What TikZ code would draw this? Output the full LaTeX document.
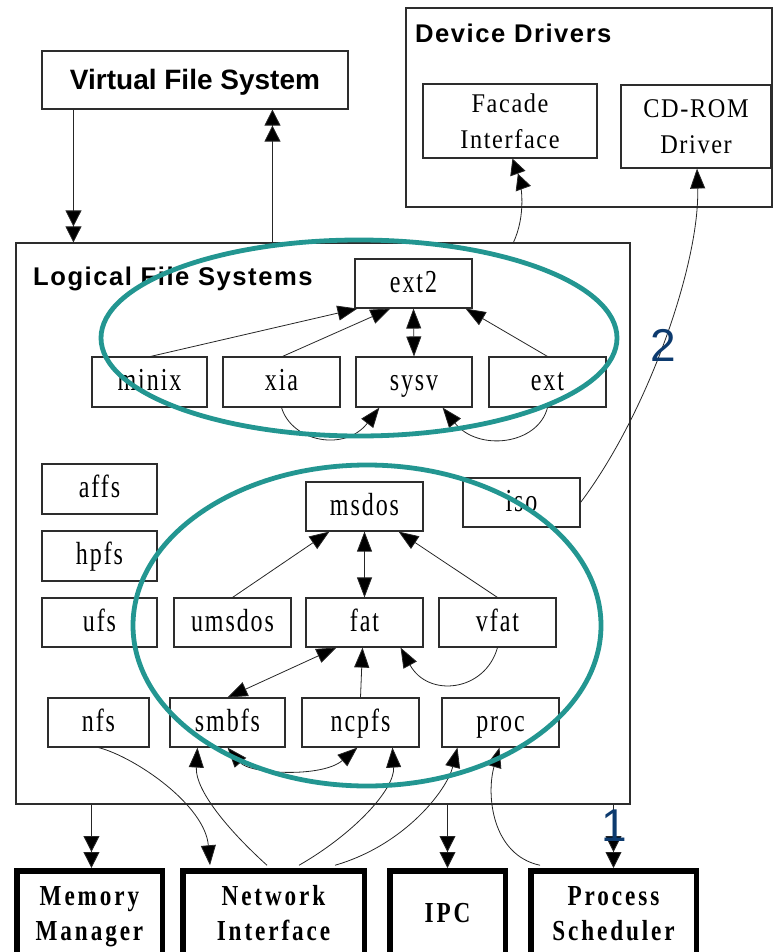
\documentclass[tikz,border=0pt]{standalone}
\usepackage{fontspec}
\setmainfont{Liberation Serif}
\newfontfamily\boxfont[FakeStretch=0.75,LetterSpace=6]{Liberation Serif}
\newfontfamily\drvfont[FakeStretch=0.9,LetterSpace=6]{Liberation Serif}
\newfontfamily\bigfont[FakeStretch=0.8,LetterSpace=10]{Liberation Serif}
\newfontfamily\headfont{Liberation Sans}
\newfontfamily\headwidefont[LetterSpace=6]{Liberation Sans}
\usetikzlibrary{arrows.meta,calc}
\definecolor{teal1}{RGB}{35,150,145}
\definecolor{navy1}{RGB}{12,58,110}
\definecolor{edge1}{RGB}{45,45,45}
\begin{document}
\begin{tikzpicture}[x=1pt,y=-1pt,
  fsbox/.style={draw=edge1,line width=1.1pt,inner sep=0pt,minimum width=117pt,minimum height=49pt,
    font=\boxfont\fontsize{32}{38}\selectfont,text height=22pt,text depth=5pt},
  contbox/.style={draw=edge1,line width=1.1pt,inner sep=0pt},
  drvbox/.style={draw=edge1,line width=1.1pt,inner sep=0pt,align=center,
    font=\drvfont\fontsize{27}{36}\selectfont},
  bigbox/.style={draw=black,line width=5.5pt,inner sep=0pt,minimum height=85pt},
  bigtxt/.style={anchor=base,inner sep=0pt,font=\bigfont\bfseries\fontsize{29}{35}\selectfont},
  headlbl/.style={inner sep=0pt,font=\headwidefont\bfseries\fontsize{25.6}{30}\selectfont},
  conn/.style={draw=black!85,line width=0.8pt},
  arr/.style={conn,-{Triangle[length=20pt,width=15pt,fill=black]}},
  darr/.style={conn,-{Triangle[length=16pt,width=16pt,fill=black]Triangle[length=16pt,width=16pt,fill=black]}},
  barr/.style={conn,{Triangle[length=20pt,width=15pt,fill=black]}-{Triangle[length=20pt,width=15pt,fill=black]}},
  ring/.style={draw=teal1,line width=4.8pt},
  num/.style={inner sep=0pt,text=navy1,font=\headfont\fontsize{46}{50}\selectfont}
]
\useasboundingbox (0,0) rectangle (773,952);
\clip (0,0) rectangle (773,952);

% ---- top level boxes
\node[contbox,minimum width=306pt,minimum height=58pt,
  font=\headfont\bfseries\fontsize{28}{34}\selectfont,text height=20pt,text depth=0pt] (vfs) at (195,80) {Virtual File System};
\node[contbox,minimum width=366pt,minimum height=199pt] (dd) at (589,107.5) {};
\node[headlbl,anchor=base west] (ddlbl) at (415,43) {Device Drivers};
\node[drvbox,minimum width=174pt,minimum height=74pt] (facade) at (510,121) {Facade\\Interface};
\node[drvbox,minimum width=150pt,minimum height=83pt] (cdrom) at (696,126.5) {CD-ROM\\Driver};

\node[contbox,minimum width=614pt,minimum height=561pt] (lfs) at (323,523.5) {};
\node[headlbl,anchor=base west] (lfslbl) at (33,285) {Logical File Systems};

% ---- file system nodes
\node[fsbox] (ext2) at (413.5,283.5) {ext2};
\node[fsbox,minimum width=115pt,minimum height=50pt] (minix) at (149.5,382) {minix};
\node[fsbox,minimum height=50pt] (xia) at (281.5,382) {xia};
\node[fsbox,minimum width=116pt,minimum height=50pt] (sysv) at (414,382) {sysv};
\node[fsbox,minimum height=50pt] (ext) at (547.5,382) {ext};

\node[fsbox,minimum width=115pt,minimum height=50pt] (affs) at (99.5,489) {affs};
\node[fsbox,minimum width=115pt,minimum height=50pt] (hpfs) at (99.5,556) {hpfs};
\node[fsbox,minimum width=115pt] (ufs) at (99.5,622.5) {ufs};
\node[fsbox,minimum width=101pt] (nfs) at (98.5,722.5) {nfs};

\node[fsbox] (msdos) at (364.5,506.5) {msdos};
\node[fsbox] (iso) at (521.5,502.5) {iso};
\node[fsbox] (umsdos) at (232.5,622.5) {umsdos};
\node[fsbox] (fat) at (364.5,622.5) {fat};
\node[fsbox] (vfat) at (497.5,622.5) {vfat};
\node[fsbox,minimum width=115pt] (smbfs) at (227.5,722.5) {smbfs};
\node[fsbox] (ncpfs) at (360.5,722.5) {ncpfs};
\node[fsbox] (proc) at (500.5,722.5) {proc};

% ---- bottom subsystems
\node[bigbox,minimum width=145.5pt] (mem) at (89.5,913.25) {};
\node[bigtxt] (memA) at (89.5,905) {Memory};
\node[bigtxt] (memB) at (89.5,940) {Manager};
\node[bigbox,minimum width=181.5pt] (net) at (273.5,913.25) {};
\node[bigtxt] (netA) at (273.5,905) {Network};
\node[bigtxt] (netB) at (273.5,940) {Interface};
\node[bigbox,minimum width=115.5pt] (ipc) at (447.5,913.25) {};
\node[bigtxt] (ipcA) at (447.5,922) {IPC};
\node[bigbox,minimum width=165.5pt] (ps) at (613.5,913.25) {};
\node[bigtxt] (psA) at (613.5,905) {Process};
\node[bigtxt] (psB) at (613.5,940) {Scheduler};

% ---- connectors: top level
\draw[darr] ($(vfs.south west)+(32,0)$) -- ($(lfs.north west)+(58,0)$);
\draw[darr] ($(lfs.north west)+(257,0)$) -- ($(vfs.south west)+(231,0)$);
\draw[darr] ($(lfs.north west)+(498,0)$) .. controls (526,215) and (522,185) .. ($(facade.south west)+(90,0)$);
\draw[arr] (iso.east) .. controls (650,410) and (700,260) .. ($(cdrom.south)+(1,0)$);

% ---- ext2 group
\draw[arr] ($(minix.north)+(1,0)$) -- ($(ext2.south west)+(3,0)$);
\draw[arr] ($(xia.north)+(1,0)$) -- ($(ext2.south west)+(36,0)$);
\draw[barr] (ext2.south) -- (sysv.north);
\draw[arr] (ext.north) -- ($(ext2.south east)+(-7,0)$);
\draw[arr] (xia.south) .. controls (292,442) and (345,452) .. ($(sysv.south west)+(24,0)$);
\draw[arr] (ext.south) .. controls (538,445) and (478,452) .. ($(sysv.south east)+(-30,0)$);

% ---- msdos group
\draw[arr] (umsdos.north) -- ($(msdos.south west)+(24,0)$);
\draw[barr] (msdos.south) -- (fat.north);
\draw[arr] (vfat.north) -- ($(msdos.south east)+(-25,0)$);
\draw[barr] ($(fat.south west)+(31,0)$) -- (smbfs.north);
\draw[arr] (ncpfs.north) -- ($(fat.south)+(-2,0)$);
\draw[arr] (vfat.south) .. controls (485,692) and (428,698) .. ($(fat.south east)+(-23,0)$);
\draw[barr] (smbfs.south) .. controls (250,774) and (322,778) .. ($(ncpfs.south west)+(56,0)$);

% ---- lower connectors
\draw[arr] (nfs.south) .. controls (135,757) and (205,805) .. ($(net.north west)+(30,-2.75)$);
\draw[arr] ($(net.north west)+(87,-2.75)$) .. controls (228,830) and (195,790) .. ($(smbfs.south west)+(28,0)$);
\draw[arr] ($(net.north west)+(119,-2.75)$) .. controls (352,835) and (395,790) .. ($(ncpfs.south west)+(91,0)$);
\draw[arr] ($(net.north west)+(155,-2.75)$) .. controls (405,845) and (447,790) .. ($(proc.south west)+(16,0)$);
\draw[arr] ($(ps.north west)+(12,-2.75)$) .. controls (492,855) and (486,795) .. ($(proc.south west)+(58,0)$);

\draw[darr] ($(lfs.south west)+(76,0)$) coordinate (mA) -- (mA |- mem.north);
\draw[darr] (lfs.south -| ipc.north) -- (ipc.north);
\draw[darr] (lfs.south -| ps.north) -- (ps.north);

% ---- highlight rings
\draw[ring] (359,338) ellipse [x radius=258, y radius=98];
\draw[ring] (367,625.5) ellipse [x radius=234, y radius=160.5];

% ---- numbers
\node[num] (n2) at (663,345) {2};
\node[num] (n1) at (614,826) {1};
\end{tikzpicture}
\end{document}
